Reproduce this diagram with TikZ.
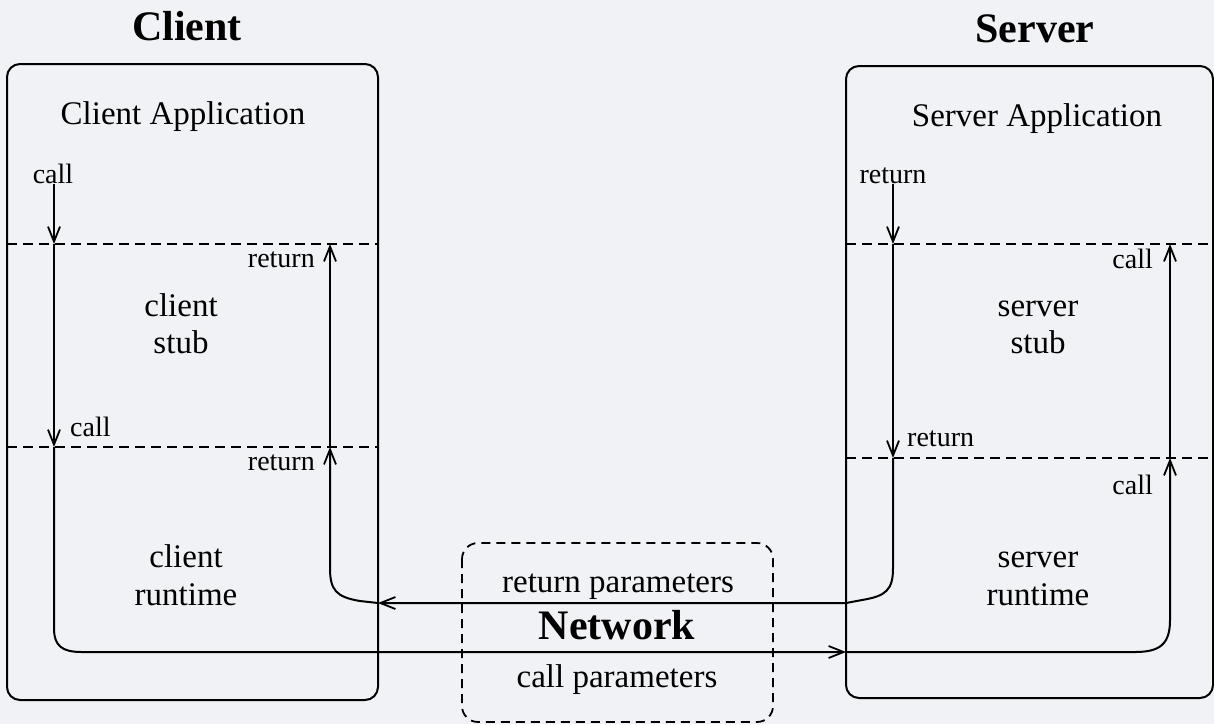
\documentclass[tikz,border=0pt]{standalone}
\usepackage{fontspec}
\setmainfont{Liberation Serif}
\usetikzlibrary{arrows.meta}
\definecolor{bgc}{RGB}{241,242,245}
\begin{document}
\begin{tikzpicture}[x=1pt,y=-1pt,
  box/.style={draw=black,line width=2pt,rounded corners=13pt},
  divider/.style={draw=black,line width=1.6pt,dash pattern=on 10pt off 6pt},
  netbox/.style={draw=black,line width=1.8pt,dash pattern=on 9pt off 6pt,rounded corners=16pt},
  flow/.style={draw=black,line width=2pt,-{Straight Barb[length=15pt,width=12pt,line width=1.8pt]}},
  title/.style={font=\fontsize{42}{46}\selectfont\bfseries,anchor=base,inner sep=0pt},
  big/.style={font=\fontsize{33}{37}\selectfont,anchor=base,inner sep=0pt,align=center},
  small/.style={font=\fontsize{28}{32}\selectfont,inner sep=0pt}]
\fill[bgc] (0,0) rectangle (1214,724);
\useasboundingbox (0,0) rectangle (1214,724);

% titles
\node[title] (tclient) at (187,40) {Client};
\node[title] (tserver) at (1035,42) {Server};

% boxes
\draw[box] (7,64) rectangle (378,700);
\draw[box] (846,66) rectangle (1213,698);
\draw[netbox] (462,543) rectangle (773,722);

% dividers
\draw[divider] (7,244) -- (378,244);
\draw[divider] (7,447) -- (378,447);
\draw[divider] (846,244) -- (1214,244);
\draw[divider] (846,458) -- (1214,458);

% layer labels
\node[big] (capp) at (183,124) {Client Application};
\node[big] (sapp) at (1037,126) {Server Application};
\node[big] (cstub1) at (181,316) {client};
\node[big] (cstub2) at (181,353) {stub};
\node[big] (crt1) at (186,567) {client};
\node[big] (crt2) at (186,605) {runtime};
\node[big] (sstub1) at (1038,316) {server};
\node[big] (sstub2) at (1038,353) {stub};
\node[big] (srt1) at (1038,567) {server};
\node[big] (srt2) at (1038,605) {runtime};
\node[big] (retp) at (618,592) {return parameters};
\node[title] (net) at (617,639) {Network};
\node[big] (callp) at (617,687) {call parameters};

% small labels
\node[small,anchor=base] (l1) at (53,183) {call};
\node[small,anchor=base east] (l2) at (315,267) {return};
\node[small,anchor=base west] (l3) at (70,436) {call};
\node[small,anchor=base east] (l4) at (315,470) {return};
\node[small,anchor=base] (l5) at (893,183) {return};
\node[small,anchor=base east] (l6) at (1153,268) {call};
\node[small,anchor=base west] (l7) at (907,446) {return};
\node[small,anchor=base east] (l8) at (1153,494) {call};

% coordinates: call path
\coordinate (a0) at (54,184);
\coordinate (a1) at (54,244);
\coordinate (a2) at (54,447);
\coordinate (a3) at (846,652);
\coordinate (a4) at (1170,458);
\coordinate (a5) at (1170,244);
% return path
\coordinate (b0) at (893,184);
\coordinate (b1) at (893,244);
\coordinate (b2) at (893,458);
\coordinate (b3) at (378,603);
\coordinate (b4) at (330,447);
\coordinate (b5) at (330,244);

% call flow
\draw[flow] (a0) -- (a1);
\draw[flow] (a1) -- (a2);
\draw[flow] (a2) -- (54,628) .. controls (54,646) and (62,652) .. (82,652) -- (a3);
\draw[flow] (a3) -- (1135,652) .. controls (1160,652) and (1170,644) .. (1170,620) -- (a4);
\draw[flow] (a4) -- (a5);

% return flow
\draw[flow] (b0) -- (b1);
\draw[flow] (b1) -- (b2);
\draw[flow] (b2) -- (893,568) .. controls (893,590) and (886,596) .. (862,600) -- (846,603) -- (b3);
\draw[flow] (b3) -- (360,601) .. controls (336,597) and (330,590) .. (330,568) -- (b4);
\draw[flow] (b4) -- (b5);
\end{tikzpicture}
\end{document}
